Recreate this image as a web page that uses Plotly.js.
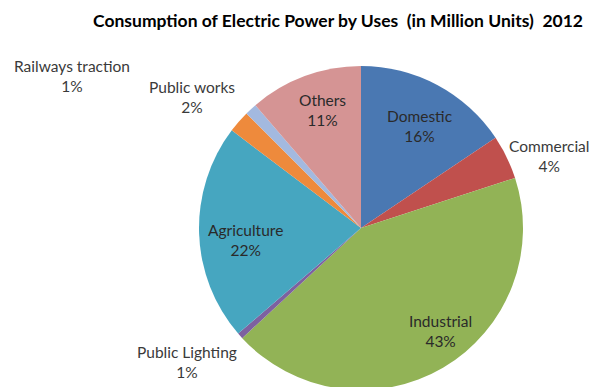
<!DOCTYPE html>
<html>
<head>
<meta charset="utf-8">
<script src="https://cdn.plot.ly/plotly-3.0.1.min.js"></script>
<style>
html,body{margin:0;padding:0;overflow:hidden;background:#fff;}
#chart{width:592px;height:400px;}
</style>
</head>
<body>
<div id="chart"></div>
<script>
// Data
const labels = ["Domestic", "Commercial", "Industrial", "Public Lighting", "Agriculture", "Public works", "Railways traction", "Others"];
const values = [15.6, 4.4, 43.1, 0.6, 21.6, 2.2, 1.2, 11.3];
const colors = ["#4A78B2", "#C0504D", "#92B356", "#7D61A0", "#46A6C0", "#EE8A3C", "#A3B9DF", "#D59494"];
const titleText = "Consumption of Electric Power by Uses\u00a0 (in Million Units)\u00a0 2012";

// Label placement (layout only), paper coords in pixels of the 592x400 layout
const labelPos = [
  [420, 126], [549, 156], [440, 331], [187, 362],
  [245, 240], [192, 97], [72, 76], [322, 110]
];
const W = 592, H = 400;
const total = values.reduce((a, b) => a + b, 0);

const annotations = labels.map((l, i) => ({
  xref: "paper", yref: "paper",
  x: labelPos[i][0] / W, y: 1 - labelPos[i][1] / H,
  xanchor: "center", yanchor: "middle",
  text: l + "<br>" + Math.round(values[i] / total * 100) + "%",
  showarrow: false,
  align: "center",
  font: {family: "Lato, 'Open Sans', sans-serif", size: 15.5, color: i === 1 || i === 3 || i === 5 || i === 6 ? "#3a3a3a" : "#2a2a2a"}
}));

const trace = {
  type: "pie",
  labels: labels,
  values: values,
  sort: false,
  direction: "clockwise",
  rotation: 0,
  marker: {colors: colors, line: {width: 0}},
  textinfo: "none",
  hoverinfo: "label+percent",
  domain: {x: [199 / W, 523 / W], y: [(H - 390) / H, (H - 66) / H]},
  showlegend: false
};

const layout = {
  width: W, height: H,
  margin: {l: 0, r: 0, t: 0, b: 0},
  paper_bgcolor: "#ffffff",
  title: {
    text: "<b>" + titleText + "</b>",
    x: 338 / W, xanchor: "center",
    y: 1 - 21 / H, yanchor: "middle",
    font: {family: "Lato, 'Open Sans', sans-serif", size: 17.5, color: "#000"}
  },
  annotations: annotations,
  showlegend: false
};

Plotly.newPlot("chart", [trace], layout, {displayModeBar: false, staticPlot: true});
</script>
</body>
</html>
